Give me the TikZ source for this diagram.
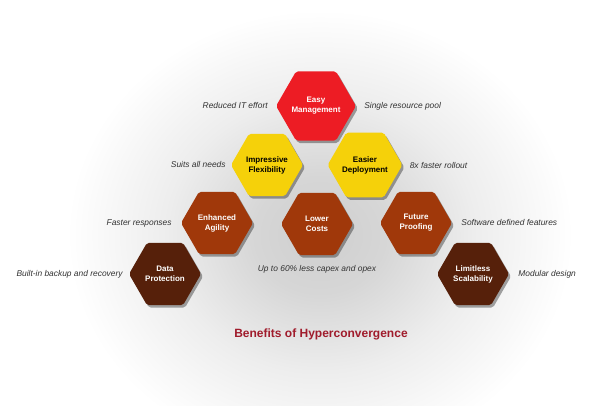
\documentclass[tikz,border=0pt]{standalone}
\usepackage{fontspec}
\setmainfont{Liberation Sans}
\usetikzlibrary{shapes.geometric, positioning, shadows}
\definecolor{colRed}{RGB}{237,28,36}
\definecolor{colGold}{RGB}{245,209,10}
\definecolor{colRust}{RGB}{160,56,10}
\definecolor{colBrown}{RGB}{86,32,10}
\definecolor{colNote}{RGB}{50,50,50}
\definecolor{colTitle}{RGB}{160,28,44}
\pgfdeclareradialshading{bgGlow}{\pgfpoint{0bp}{0bp}}{%
  color(0bp)=(black!19); color(6bp)=(black!16); color(14bp)=(black!7);
  color(23bp)=(white); color(50bp)=(white)}
\tikzset{
  hexBox/.style={
    regular polygon, regular polygon sides=6,
    minimum size=72pt, inner sep=0pt, rounded corners=2pt,
    align=center, text=white,
    font=\fontsize{8}{10}\selectfont\bfseries,
    drop shadow={shadow xshift=2pt, shadow yshift=-2.5pt, opacity=0.35, fill=black}
  },
  hexRed/.style={hexBox, fill=colRed},
  hexGold/.style={hexBox, fill=colGold, text=black},
  hexRust/.style={hexBox, fill=colRust},
  hexBrown/.style={hexBox, fill=colBrown},
  noteText/.style={
    font=\fontsize{8.4}{10}\selectfont\itshape, text=colNote, inner sep=0pt
  },
  headText/.style={
    font=\fontsize{12}{14}\selectfont\bfseries, text=colTitle
  }
}

\begin{document}
\begin{tikzpicture}[x=1pt, y=-1pt]

  \useasboundingbox (0,0) rectangle (600,406);

  % soft grey glow behind the pyramid
  \shade[shading=bgGlow] (320,235) ellipse [x radius=275, y radius=245];

  % pyramid of benefits
  \node[hexRed]   (mgmt)    at (316,106) {Easy\\Management};
  \node[hexGold]  (flex)    at (267,165) {Impressive\\Flexibility};
  \node[hexGold]  (deploy)  at (365,165) {Easier\\Deployment};
  \node[hexRust]  (agility) at (217,223) {Enhanced\\Agility};
  \node[hexRust]  (costs)   at (317,224) {Lower\\Costs};
  \node[hexRust]  (future)  at (416,223) {Future\\Proofing};
  \node[hexBrown] (protect) at (165,274) {Data\\Protection};
  \node[hexBrown] (scale)   at (473,274) {Limitless\\Scalability};

  % side notes
  \node[noteText, left=8pt of mgmt]    {Reduced IT effort};
  \node[noteText, right=8pt of mgmt]   {Single resource pool};
  \node[noteText, left=5pt of flex]    {Suits all needs};
  \node[noteText, right=7pt of deploy] {8x faster rollout};
  \node[noteText, left=9pt of agility] {Faster responses};
  \node[noteText, below=10pt of costs] {Up to 60\% less capex and opex};
  \node[noteText, right=9pt of future] {Software defined features};
  \node[noteText, left=6pt of protect] {Built-in backup and recovery};
  \node[noteText, right=9pt of scale]  {Modular design};

  \node[headText] (head) at (321,334) {Benefits of Hyperconvergence};

\end{tikzpicture}
\end{document}
